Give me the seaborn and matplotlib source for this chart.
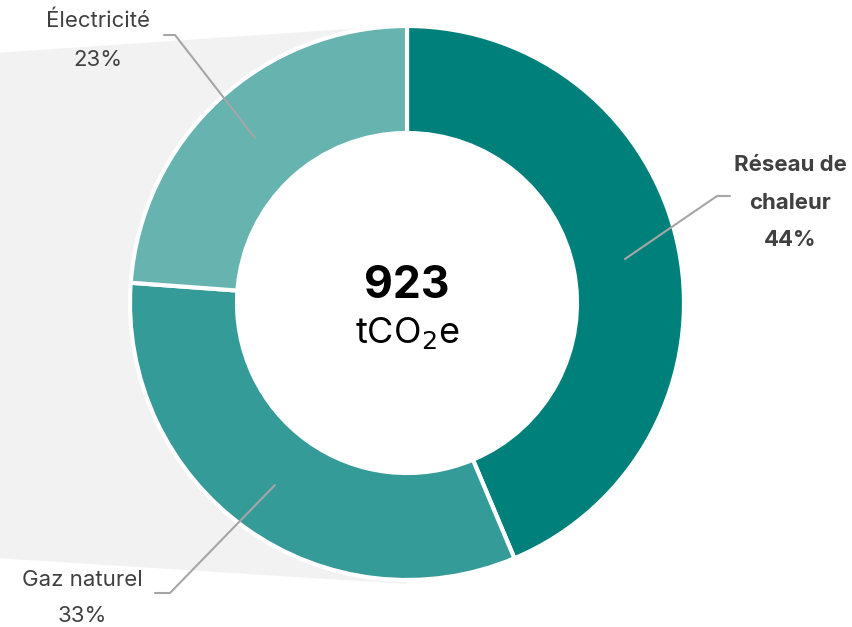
import numpy as np
import seaborn as sns
import matplotlib.pyplot as plt
from matplotlib.patches import Polygon, Circle

sns.set_theme(style="white")
plt.rcParams['font.family'] = ['Inter', 'DejaVu Sans']

# data
sources = ["Réseau de", "chaleur", "Gaz naturel", "Électricité"]
emissions = [403, 300, 220]          # tCO2e
pct_labels = ["44%", "33%", "23%"]
total = "923"
colors = ["#00807A", "#359B98", "#66B3AF"]

W, H = 852, 627
fig = plt.figure(figsize=(W / 100, H / 100), dpi=100)
ax = fig.add_axes([0, 0, 1, 1])

cx, cy, R, hole = 407, 324, 277, 170

# grey funnel behind the donut
ax.add_patch(Polygon([(-5, 574), (cx, H - 25), (cx, 43), (-5, 69)],
                     closed=True, color="#F2F2F2", lw=0, zorder=0))
ax.add_patch(Circle((cx, cy), hole, color="white", lw=0, zorder=0.5))

ax.pie(emissions, colors=colors, startangle=90, counterclock=False,
       radius=R, center=(cx, cy), frame=True,
       wedgeprops=dict(width=R - hole, edgecolor="white", linewidth=3))
ax.set_xlim(0, W)
ax.set_ylim(0, H)
ax.set_aspect("equal")
ax.axis("off")

# centre text
ax.text(cx, H - 286, total, ha="center", va="center", fontsize=32,
        fontweight="bold", color="black")
ax.text(cx, H - 333, r"tCO$_2$e", ha="center", va="center", fontsize=26,
        color="black")

line_kw = dict(color="#A6A6A6", lw=1.5, zorder=5)
txt = "#404040"
fs = 16

# Réseau de chaleur
ax.plot([625, 717, 730], [H - 259, H - 196, H - 196], **line_kw)
for lab, y in zip([sources[0], sources[1], pct_labels[0]], [165, 203, 240]):
    ax.text(790, H - y, lab, ha="center", va="center", fontsize=fs,
            fontweight="bold", color=txt)

# Gaz naturel
ax.plot([275, 170, 155], [H - 485, H - 593, H - 593], **line_kw)
ax.text(82, H - 580, sources[2], ha="center", va="center", fontsize=fs,
        color=txt)
ax.text(82, H - 616, pct_labels[1], ha="center", va="center", fontsize=fs,
        color=txt)

# Électricité
ax.plot([255, 175, 164], [H - 138, H - 35, H - 35], **line_kw)
ax.text(98, H - 21, sources[3], ha="center", va="center", fontsize=fs,
        color=txt)
ax.text(98, H - 60, pct_labels[2], ha="center", va="center", fontsize=fs,
        color=txt)

fig.savefig("out.png", dpi=100)
